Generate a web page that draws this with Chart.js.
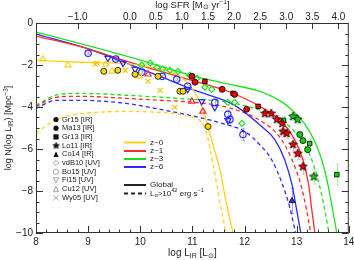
<!DOCTYPE html>
<html>
<head>
<meta charset="utf-8">
<script src="https://cdn.jsdelivr.net/npm/chart.js@4.4.0/dist/chart.umd.min.js"></script>
<style>
  html, body { margin: 0; padding: 0; background: #fff; }
</style>
</head>
<body>
<canvas id="lf" width="354" height="260"></canvas>
<script>
// tick values
const lumTicks = [8, 9, 10, 11, 12, 13, 14];
const sfrTicks = [-1.0, 0.0, 0.5, 1.0, 1.5, 2.0, 2.5, 3.0, 3.5, 4.0];
const nTicks = [0, -2, -4, -6, -8, -10];
const sfrOffset = 9.8; // log SFR = log L_IR - 9.8

// model curves: log L_IR and log N
const z0GlobalX = [8.00, 8.84, 9.80, 10.38, 10.76, 10.95, 11.09, 11.20, 11.30, 11.41, 11.53, 11.62, 11.70, 11.78];
const z0GlobalY = [-1.77, -1.87, -1.96, -2.20, -2.54, -2.97, -3.49, -4.11, -4.93, -5.93, -6.99, -8.18, -9.14, -10.0];
const z1GlobalX = [8.00, 8.96, 9.73, 11.05, 11.68, 12.29, 12.73, 12.96, 13.12, 13.23, 13.29, 13.35];
const z1GlobalY = [-0.62, -1.20, -1.82, -2.78, -3.25, -3.97, -4.74, -5.55, -6.51, -7.70, -8.90, -10.0];
const z3GlobalX = [8.00, 8.96, 9.94, 11.05, 11.72, 12.35, 12.73, 13.00, 13.16, 13.35, 13.48, 13.60, 13.69, 13.77];
const z3GlobalY = [-0.43, -1.05, -1.72, -2.54, -2.92, -3.30, -3.78, -4.35, -4.83, -5.65, -6.51, -7.70, -8.90, -10.0];
const z6GlobalX = [8.00, 8.96, 9.73, 10.38, 11.05, 11.81, 12.33, 12.58, 12.77, 12.91, 13.00, 13.08];
const z6GlobalY = [-0.53, -1.20, -1.91, -2.54, -3.21, -3.92, -4.93, -5.55, -6.51, -7.70, -8.90, -10.0];

const z0LyaX = [8.00, 8.17, 8.36, 8.65, 9.13, 9.80, 10.38, 10.76, 11.01, 11.18, 11.28, 11.36, 11.45, 11.53, 11.59, 11.64];
const z0LyaY = [-5.26, -4.93, -4.64, -4.40, -4.26, -4.21, -4.26, -4.35, -4.50, -4.74, -5.31, -6.27, -7.46, -8.56, -9.28, -10.0];
const z1LyaX = [8.00, 8.38, 8.84, 9.73, 10.38, 11.05, 11.68, 12.33, 12.68, 12.91, 13.08, 13.19, 13.27];
const z1LyaY = [-3.97, -3.54, -3.49, -3.59, -3.68, -3.78, -4.02, -4.69, -5.45, -6.51, -7.70, -8.90, -10.0];
const z3LyaX = [8.00, 8.38, 8.84, 9.73, 11.05, 11.57, 12.06, 12.58, 12.96, 13.25, 13.41, 13.52, 13.62];
const z3LyaY = [-3.92, -3.44, -3.35, -3.44, -3.64, -3.73, -3.97, -4.45, -5.17, -6.27, -7.46, -8.66, -10.0];
const z6LyaX = [8.00, 8.38, 8.84, 9.73, 10.38, 11.05, 11.57, 12.01, 12.29, 12.52, 12.73, 12.87, 12.98];
const z6LyaY = [-4.07, -3.68, -3.68, -3.83, -4.11, -4.45, -4.78, -5.17, -5.79, -6.51, -7.70, -8.80, -10.0];

// observations
const gr15z0X = [9.30, 9.57, 9.90, 10.34, 10.76, 10.82, 11.30];
const gr15z0Y = [-2.30, -2.25, -2.44, -2.54, -3.25, -3.25, -4.93];
const cu12z0X = [8.13, 8.61, 9.34, 9.46, 9.99];
const cu12z0Y = [-1.72, -2.01, -1.96, -2.30, -2.54];
const wy05z0X = [9.13, 9.17, 9.71, 10.15, 10.38, 10.66];
const wy05z0Y = [-1.96, -1.91, -2.25, -2.78, -3.21, -4.02];

const gr15z1X = [10.99, 11.05, 11.57, 11.81, 12.04];
const gr15z1Y = [-2.54, -2.82, -3.16, -3.40, -4.11];
const gr13z1X = [11.24, 11.78, 12.26];
const gr13z1Y = [-2.78, -3.35, -3.97];
const lo11z1X = [12.39, 12.51, 12.62, 12.72, 12.74, 12.81, 12.93, 13.02, 13.12];
const lo11z1Y = [-4.31, -4.31, -4.59, -4.78, -5.17, -5.26, -5.79, -6.22, -6.84];
const lo11z1E = [0.2, 0.2, 0.2, 0.25, 0.25, 0.25, 0.3, 0.3, 0.35];
const cu12z1X = [10.15, 10.99, 11.20];
const cu12z1Y = [-2.44, -3.73, -4.21];

const vdb10z3X = [10.03, 10.19, 10.32, 10.43, 10.57, 10.72, 10.95, 11.09, 11.24, 11.37, 11.68, 11.81, 11.95];
const vdb10z3Y = [-2.01, -1.91, -2.11, -2.20, -2.25, -2.30, -2.49, -2.63, -3.06, -3.16, -3.78, -3.78, -4.78];
const gr15z3X = [13.06, 13.12, 13.21];
const gr15z3Y = [-5.31, -5.60, -6.03];
const gr13z3X = [12.75, 13.25, 13.77];
const gr13z3Y = [-4.64, -5.74, -7.22];
const gr13z3E = [0.2, 0.25, 0.5];
const lo11z3X = [12.93, 13.02, 13.33];
const lo11z3Y = [-4.45, -4.59, -7.32];
const lo11z3E = [0.2, 0.2, 0.35];

const bo15z6X = [9.00, 9.53, 10.03, 10.42, 10.70, 10.91, 11.43, 11.68, 11.72, 11.97];
const bo15z6Y = [-1.44, -1.72, -2.34, -2.54, -2.68, -3.01, -3.78, -4.35, -4.59, -5.31];
const bo15z6E = [0.05, 0.05, 0.05, 0.05, 0.05, 0.1, 0.15, 0.2, 0.2, 0.3];
const fi15z6X = [9.38, 9.67, 9.90, 10.91, 11.18, 11.43, 11.68];
const fi15z6Y = [-1.67, -1.91, -2.20, -3.16, -3.73, -4.02, -4.64];
const co14z6X = [12.91];
const co14z6Y = [-8.47];
const co14z6E = [0.6];

const FONT = '"Liberation Sans", Arial, sans-serif';
const cYel = '#FFD21A', cRed = '#FF2A2A', cGrn = '#1FE01F', cBlu = '#2B2BFF';
const fYel = '#FFD700', fRed = '#F00000', fGrn = '#10D010';

function pts(xs, ys) {
  return xs.map((x, i) => ({ x: x, y: ys[i] }));
}

function starImg(fill, stroke, r) {
  const c = document.createElement('canvas');
  const s = Math.ceil(r * 2 + 2);
  c.width = s; c.height = s;
  const g = c.getContext('2d');
  g.beginPath();
  for (let i = 0; i < 10; i++) {
    const rad = i % 2 ? r * 0.45 : r;
    const a = -Math.PI / 2 + i * Math.PI / 5;
    g.lineTo(s / 2 + rad * Math.cos(a), s / 2 + rad * Math.sin(a));
  }
  g.closePath();
  g.fillStyle = fill; g.fill();
  g.strokeStyle = stroke; g.lineWidth = 0.8; g.stroke();
  return c;
}

function curve(xs, ys, color, dashed) {
  return {
    data: pts(xs, ys), showLine: true, pointRadius: 0, borderColor: color,
    borderWidth: 1.3, borderDash: dashed ? [4, 3] : [], cubicInterpolationMode: 'monotone', order: 5
  };
}

function filled(xs, ys, style, fill, err, errColor, radius) {
  return {
    data: pts(xs, ys), showLine: false, pointStyle: style, pointRadius: radius || 3,
    pointBackgroundColor: fill, pointBorderColor: '#000', pointBorderWidth: 0.8,
    err: err, errColor: errColor, order: 1
  };
}

function open(xs, ys, style, color, rotation, radius, err, errColor) {
  return {
    data: pts(xs, ys), showLine: false, pointStyle: style, pointRadius: radius || 3,
    pointRotation: rotation || 0, pointBackgroundColor: 'rgba(255,255,255,0)',
    pointBorderColor: color, pointBorderWidth: 1.2, err: err, errColor: errColor, order: 1
  };
}

const datasets = [
  filled(gr15z0X, gr15z0Y, 'circle', fYel),
  open(cu12z0X, cu12z0Y, 'triangle', cYel, 0, 3.5),
  open(wy05z0X, wy05z0Y, 'crossRot', '#F5C400', 0, 3.5),
  filled(gr15z1X, gr15z1Y, 'circle', fRed),
  filled(gr13z1X, gr13z1Y, 'rect', fRed, null, null, 3.2),
  filled(lo11z1X, lo11z1Y, starImg(fRed, '#000', 4.5), fRed, lo11z1E, '#FFB0B0'),
  open(cu12z1X, cu12z1Y, 'triangle', cRed, 0, 3.5),
  open(vdb10z3X, vdb10z3Y, 'rectRot', cGrn, 0, 3),
  filled(gr15z3X, gr15z3Y, 'circle', fGrn),
  filled(gr13z3X, gr13z3Y, 'rect', fGrn, gr13z3E, '#A8F0A8', 3.2),
  filled(lo11z3X, lo11z3Y, starImg(fGrn, '#000', 4.5), fGrn, lo11z3E, '#A8F0A8'),
  open(bo15z6X, bo15z6Y, 'circle', cBlu, 0, 3.2, bo15z6E, '#B0B0FF'),
  open(fi15z6X, fi15z6Y, 'triangle', cBlu, 180, 3.5),
  filled(co14z6X, co14z6Y, 'triangle', cBlu, co14z6E, '#A0A0FF', 3.5),
  curve(z0GlobalX, z0GlobalY, cYel, false),
  curve(z1GlobalX, z1GlobalY, cRed, false),
  curve(z3GlobalX, z3GlobalY, cGrn, false),
  curve(z6GlobalX, z6GlobalY, cBlu, false),
  curve(z0LyaX, z0LyaY, cYel, true),
  curve(z1LyaX, z1LyaY, cRed, true),
  curve(z3LyaX, z3LyaY, cGrn, true),
  curve(z6LyaX, z6LyaY, cBlu, true)
];

// text with sub/superscripts: parts = [[text, 0|1|-1]]
function richWidth(ctx, parts, size) {
  let w = 0;
  parts.forEach(p => {
    ctx.font = (p[1] ? size * 0.7 : size) + 'px ' + FONT;
    w += ctx.measureText(p[0]).width;
  });
  return w;
}
function drawRich(ctx, parts, x, y, size, align) {
  const w = richWidth(ctx, parts, size);
  let cx = align === 'center' ? x - w / 2 : x;
  ctx.textBaseline = 'middle';
  ctx.textAlign = 'left';
  parts.forEach(p => {
    const sz = p[1] ? size * 0.7 : size;
    ctx.font = sz + 'px ' + FONT;
    const dy = p[1] === 1 ? -size * 0.32 : (p[1] === -1 ? size * 0.28 : 0);
    ctx.fillText(p[0], cx, y + dy);
    cx += ctx.measureText(p[0]).width;
  });
}

const errorBars = {
  id: 'errorBars',
  beforeDatasetsDraw(chart) {
    const { ctx, scales } = chart;
    ctx.save();
    ctx.lineWidth = 1;
    chart.data.datasets.forEach(ds => {
      if (!ds.err) return;
      ctx.strokeStyle = ds.errColor;
      ds.data.forEach((p, i) => {
        const x = Math.round(scales.x.getPixelForValue(p.x)) + 0.5;
        const y1 = scales.y.getPixelForValue(p.y + ds.err[i]);
        const y2 = scales.y.getPixelForValue(p.y - ds.err[i]);
        ctx.beginPath();
        ctx.moveTo(x, y1); ctx.lineTo(x, y2);
        ctx.moveTo(x - 2, y1); ctx.lineTo(x + 2, y1);
        ctx.moveTo(x - 2, y2); ctx.lineTo(x + 2, y2);
        ctx.stroke();
      });
    });
    ctx.restore();
  }
};

const frame = {
  id: 'frame',
  afterDatasetsDraw(chart) {
    const { ctx, chartArea: a, scales } = chart;
    ctx.save();
    ctx.strokeStyle = '#333';
    ctx.lineWidth = 1;
    ctx.strokeRect(a.left + 0.5, a.top + 0.5, a.right - a.left - 1, a.bottom - a.top - 1);
    ctx.beginPath();
    // bottom axis: major every 1, minor every 0.2
    for (let v = 8; v <= 14.001; v += 0.2) {
      const x = Math.round(scales.x.getPixelForValue(v)) + 0.5;
      const major = Math.abs(v - Math.round(v)) < 0.01;
      const len = major ? 7 : 3.5;
      ctx.moveTo(x, a.bottom); ctx.lineTo(x, a.bottom - len);
    }
    // top axis (SFR)
    sfrTicks.forEach(v => {
      const x = Math.round(scales.x2.getPixelForValue(v)) + 0.5;
      ctx.moveTo(x, a.top); ctx.lineTo(x, a.top + 6);
    });
    // left & right axes: major every 2, minor every 0.5
    for (let v = -10; v <= 0.001; v += 0.5) {
      const y = Math.round(scales.y.getPixelForValue(v)) + 0.5;
      const major = Math.abs(v / 2 - Math.round(v / 2)) < 0.01;
      const len = major ? 7 : 3.5;
      ctx.moveTo(a.left, y); ctx.lineTo(a.left + len, y);
      ctx.moveTo(a.right, y); ctx.lineTo(a.right - len, y);
    }
    ctx.stroke();
    ctx.restore();
  }
};

const titles = {
  id: 'titles',
  afterDraw(chart) {
    const { ctx, chartArea: a } = chart;
    ctx.save();
    ctx.fillStyle = '#222';
    drawRich(ctx, [['log L', 0], ['IR', -1], [' [L', 0], ['\u2299', -1], [']', 0]],
      (a.left + a.right) / 2, 253, 10, 'center');
    drawRich(ctx, [['log SFR [M', 0], ['\u2299', -1], [' yr', 0], ['\u22121', 1], [']', 0]],
      (a.left + a.right) / 2, 5, 9.5, 'center');
    ctx.translate(9, (a.top + a.bottom) / 2);
    ctx.rotate(-Math.PI / 2);
    drawRich(ctx, [['log N(log L', 0], ['IR', -1], [') [Mpc', 0], ['\u22123', 1], [']', 0]],
      0, 0, 9, 'center');
    ctx.restore();
  }
};

// legend entries
const surveyNames = ['Gr15 [IR]', 'Ma13 [IR]', 'Gr13 [IR]', 'Lo11 [IR]', 'Co14 [IR]',
  'vdB10 [UV]', 'Bo15 [UV]', 'Fi15 [UV]', 'Cu12 [UV]', 'Wy05 [UV]'];
const surveyMarks = ['circle', 'hex', 'rect', 'star', 'triangle', 'diamond', 'ocircle', 'dtri', 'otri', 'cross'];
const zNames = ['z~0', 'z~1', 'z~3', 'z~6'];
const zColors = [cYel, cRed, cGrn, cBlu];

function mark(ctx, kind, x, y) {
  const r = 2.6;
  ctx.save();
  ctx.fillStyle = '#111';
  ctx.strokeStyle = '#999';
  ctx.lineWidth = 0.9;
  ctx.beginPath();
  if (kind === 'circle' || kind === 'hex') {
    ctx.arc(x, y, r, 0, Math.PI * 2); ctx.fill();
  } else if (kind === 'rect') {
    ctx.fillRect(x - r, y - r, 2 * r, 2 * r);
  } else if (kind === 'star') {
    ctx.drawImage(starImg('#111', '#111', 3.4), x - 4.4, y - 4.4);
  } else if (kind === 'triangle') {
    ctx.moveTo(x, y - r - 0.5); ctx.lineTo(x + r, y + r); ctx.lineTo(x - r, y + r); ctx.closePath(); ctx.fill();
  } else if (kind === 'diamond') {
    ctx.moveTo(x, y - r); ctx.lineTo(x + r, y); ctx.lineTo(x, y + r); ctx.lineTo(x - r, y); ctx.closePath(); ctx.stroke();
  } else if (kind === 'ocircle') {
    ctx.arc(x, y, r, 0, Math.PI * 2); ctx.stroke();
  } else if (kind === 'dtri') {
    ctx.moveTo(x - r, y - r); ctx.lineTo(x + r, y - r); ctx.lineTo(x, y + r); ctx.closePath(); ctx.stroke();
  } else if (kind === 'otri') {
    ctx.moveTo(x - r, y + r); ctx.lineTo(x + r, y + r); ctx.lineTo(x, y - r); ctx.closePath(); ctx.stroke();
  } else if (kind === 'cross') {
    ctx.moveTo(x - r, y - r); ctx.lineTo(x + r, y + r);
    ctx.moveTo(x + r, y - r); ctx.lineTo(x - r, y + r); ctx.stroke();
  }
  ctx.restore();
}

const legends = {
  id: 'legends',
  afterDraw(chart) {
    const { ctx } = chart;
    ctx.save();
    ctx.fillStyle = '#222';
    surveyNames.forEach((name, i) => {
      const y = 119.5 + i * 8.7;
      mark(ctx, surveyMarks[i], 56, y);
      ctx.font = '7.5px ' + FONT;
      ctx.textAlign = 'left';
      ctx.textBaseline = 'middle';
      ctx.fillText(name, 62, y);
    });
    const lineYs = [142.5, 151, 159, 167];
    ctx.lineWidth = 2;
    zNames.forEach((name, i) => {
      ctx.strokeStyle = zColors[i];
      ctx.beginPath();
      ctx.moveTo(124, lineYs[i]); ctx.lineTo(146, lineYs[i]);
      ctx.stroke();
      ctx.font = '8px ' + FONT;
      ctx.textAlign = 'left';
      ctx.textBaseline = 'middle';
      ctx.fillText(name, 150, lineYs[i]);
    });
    ctx.strokeStyle = '#222';
    ctx.beginPath();
    ctx.moveTo(124, 185); ctx.lineTo(146, 185); ctx.stroke();
    ctx.setLineDash([4, 3]);
    ctx.beginPath();
    ctx.moveTo(124, 193.5); ctx.lineTo(146, 193.5); ctx.stroke();
    ctx.setLineDash([]);
    ctx.font = '8px ' + FONT;
    ctx.fillText('Global', 150, 185);
    drawRich(ctx, [['L', 0], ['\u03b1', -1], ['>10', 0], ['42', 1], [' erg s', 0], ['\u22121', 1]], 150, 193.5, 8, 'left');
    ctx.restore();
  }
};

function minus(v, digits) {
  const s = digits ? Math.abs(v).toFixed(digits) : String(Math.abs(v));
  return (v < 0 ? '\u2212' : '') + s;
}

const tickFont = { family: FONT, size: 10 };

new Chart(document.getElementById('lf'), {
  type: 'scatter',
  data: { datasets: datasets },
  options: {
    responsive: false,
    animation: false,
    layout: { padding: { left: 0, right: 5, top: 0, bottom: 0 } },
    plugins: { legend: { display: false }, tooltip: { enabled: false } },
    scales: {
      x: {
        type: 'linear', position: 'bottom', min: 8, max: 14,
        grid: { display: false, drawTicks: false }, border: { display: false },
        afterBuildTicks: s => { s.ticks = lumTicks.map(v => ({ value: v })); },
        afterFit: s => { s.height = 27; s.paddingLeft = 0; s.paddingRight = 0; },
        ticks: { color: '#222', font: tickFont, padding: 3, maxRotation: 0, autoSkip: false, callback: v => minus(v) }
      },
      x2: {
        type: 'linear', position: 'top', min: 8 - sfrOffset, max: 14 - sfrOffset,
        grid: { display: false, drawTicks: false }, border: { display: false },
        afterBuildTicks: s => { s.ticks = sfrTicks.map(v => ({ value: v })); },
        afterFit: s => { s.height = 23; s.paddingLeft = 0; s.paddingRight = 0; },
        ticks: { color: '#222', font: tickFont, padding: 0, maxRotation: 0, autoSkip: false, callback: v => minus(v, 1) }
      },
      y: {
        type: 'linear', position: 'left', min: -10, max: 0,
        grid: { display: false, drawTicks: false }, border: { display: false },
        afterBuildTicks: s => { s.ticks = nTicks.map(v => ({ value: v })); },
        afterFit: s => { s.width = 36; s.paddingTop = 0; s.paddingBottom = 0; },
        ticks: { color: '#222', font: tickFont, padding: 3, autoSkip: false, callback: v => minus(v) }
      }
    }
  },
  plugins: [errorBars, frame, titles, legends]
});
</script>
</body>
</html>
